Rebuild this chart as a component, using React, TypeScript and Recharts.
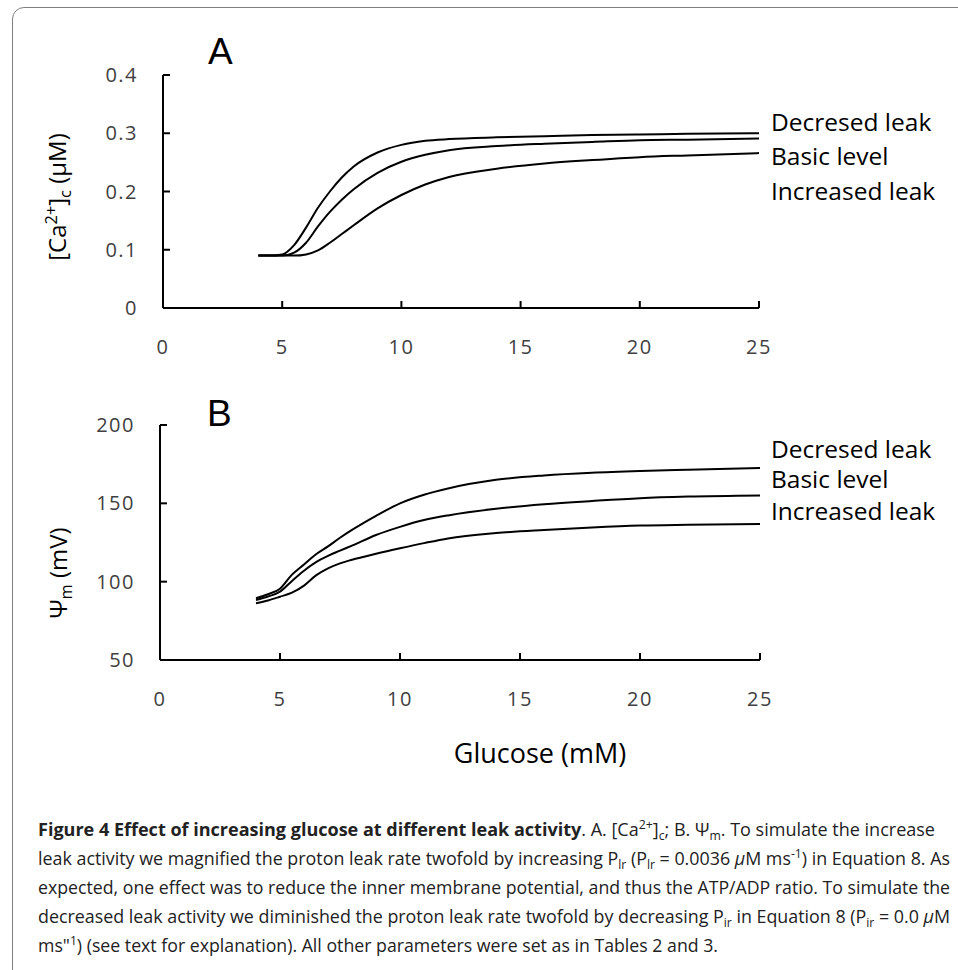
import React, { useLayoutEffect, useRef, useState } from 'react';
import { LineChart, Line, XAxis, YAxis } from 'recharts';

// ---- data ----
const glucose = [4, 4.5, 5, 5.5, 6, 6.5, 7, 7.5, 8, 9, 10, 11, 12, 14, 16, 18, 20, 22, 25];

const caDecreased = [0.09, 0.09, 0.092, 0.108, 0.138, 0.172, 0.2, 0.224, 0.243, 0.267, 0.28, 0.287, 0.29, 0.293, 0.295, 0.297, 0.298, 0.299, 0.3];
const caBasic = [0.09, 0.09, 0.09, 0.095, 0.112, 0.14, 0.165, 0.186, 0.204, 0.232, 0.251, 0.263, 0.271, 0.278, 0.282, 0.285, 0.288, 0.289, 0.291];
const caIncreased = [0.09, 0.09, 0.09, 0.09, 0.092, 0.099, 0.112, 0.127, 0.142, 0.171, 0.194, 0.212, 0.225, 0.239, 0.248, 0.254, 0.259, 0.262, 0.266];

const psiDecreased = [89.4, 92, 95.5, 104.5, 111, 117.5, 122.5, 128, 133, 142, 150, 155.5, 159.5, 165, 167.8, 169.5, 170.6, 171.4, 172.5];
const psiBasic = [88.3, 90.5, 93.6, 100.5, 107, 112.5, 116.5, 119.8, 123, 129.8, 135, 139.3, 142.3, 146.5, 149.4, 151.5, 153.3, 154.3, 155];
const psiIncreased = [86.2, 88, 90.4, 93, 97.5, 104, 108.5, 111.7, 114, 117.8, 121.3, 124.6, 127.6, 131, 133, 134.6, 135.8, 136.3, 136.8];

const xTicks = [0, 5, 10, 15, 20, 25];
const caTicks = [0, 0.1, 0.2, 0.3, 0.4];
const psiTicks = [50, 100, 150, 200];
const seriesNames = ['Decresed leak', 'Basic level', 'Increased leak'];

const dataA = glucose.map((g, i) => ({ g, dec: caDecreased[i], bas: caBasic[i], inc: caIncreased[i] }));
const dataB = glucose.map((g, i) => ({ g, dec: psiDecreased[i], bas: psiBasic[i], inc: psiIncreased[i] }));

const FONT = '"Open Sans", "Noto Sans", sans-serif';
const tickStyle = { fill: '#404040', fontSize: 20, fontFamily: FONT, letterSpacing: 1.5 };
const axisLine = { stroke: '#000', strokeWidth: 2 };

function FitLine({ top, left, width, children }: { top: number; left: number; width: number; children: React.ReactNode }) {
  const ref = useRef<HTMLSpanElement>(null);
  const [s, setS] = useState(1);
  useLayoutEffect(() => {
    if (ref.current) {
      const w = ref.current.getBoundingClientRect().width;
      if (w > 0) setS(width / w);
    }
  }, [width]);
  return (
    <div
      style={{
        position: 'absolute',
        left,
        top,
        whiteSpace: 'nowrap',
        transformOrigin: '0 0',
        transform: `scaleX(${s})`,
        fontFamily: FONT,
        fontSize: 18.5,
        lineHeight: 1,
        color: '#222',
      }}
    >
      <span ref={ref}>{children}</span>
    </div>
  );
}

const subS: React.CSSProperties = { fontSize: '0.68em', verticalAlign: '-0.3em', lineHeight: 0 };
const supS: React.CSSProperties = { fontSize: '0.68em', verticalAlign: '0.55em', lineHeight: 0 };

function Panel({ data, domain, ticks, top, height, margin }: any) {
  return (
    <div style={{ position: 'absolute', left: 0, top }}>
      <LineChart width={958} height={height} data={data} margin={margin}>
        <XAxis
          dataKey="g"
          type="number"
          domain={[0, 25]}
          ticks={xTicks}
          interval={0}
          height={60}
          tickSize={-7}
          tickMargin={39}
          axisLine={axisLine}
          tickLine={axisLine}
          tick={tickStyle}
        />
        <YAxis
          type="number"
          domain={domain}
          ticks={ticks}
          interval={0}
          width={60}
          tickSize={-7}
          tickMargin={32}
          axisLine={axisLine}
          tickLine={axisLine}
          tick={tickStyle}
        />
        <Line dataKey="dec" name={seriesNames[0]} type="monotone" stroke="#000" strokeWidth={2} dot={false} isAnimationActive={false} />
        <Line dataKey="bas" name={seriesNames[1]} type="monotone" stroke="#000" strokeWidth={2} dot={false} isAnimationActive={false} />
        <Line dataKey="inc" name={seriesNames[2]} type="monotone" stroke="#000" strokeWidth={2} dot={false} isAnimationActive={false} />
      </LineChart>
    </div>
  );
}

const seriesLabel = (y: number, text: string) => (
  <div
    key={text + y}
    style={{ position: 'absolute', left: 771, top: y - 12.5, fontFamily: FONT, fontSize: 24.5, lineHeight: 1, color: '#000', whiteSpace: 'nowrap' }}
  >
    {text}
  </div>
);

export default function App() {
  return (
    <div style={{ position: 'absolute', left: 0, top: 0, width: 958, height: 970, overflow: 'hidden', background: '#fff' }}>
      <div style={{ position: 'absolute', left: 12, top: 7, width: 1100, height: 1100, border: '1.5px solid #808080', borderRadius: 12 }} />

      <Panel data={dataA} domain={[0, 0.4]} ticks={caTicks} top={0} height={400} margin={{ top: 75, right: 199, left: 103, bottom: 32 }} />
      <Panel data={dataB} domain={[50, 200]} ticks={psiTicks} top={380} height={400} margin={{ top: 45, right: 198, left: 100, bottom: 60 }} />

      <div style={{ position: 'absolute', left: 208, top: 33, fontFamily: '"Liberation Sans", Arial, sans-serif', fontSize: 37, lineHeight: 1, color: '#000' }}>A</div>
      <div style={{ position: 'absolute', left: 207, top: 395, fontFamily: '"Liberation Sans", Arial, sans-serif', fontSize: 37, lineHeight: 1, color: '#000' }}>B</div>

      <div style={{ position: 'absolute', left: 57, top: 197, transform: 'translate(-50%,-50%) rotate(-90deg)', fontFamily: FONT, fontSize: 24, lineHeight: 1, whiteSpace: 'nowrap', color: '#000' }}>
        [Ca<span style={supS}>2+</span>]<span style={subS}>c</span> (μM)
      </div>
      <div style={{ position: 'absolute', left: 58, top: 573, transform: 'translate(-50%,-50%) rotate(-90deg)', fontFamily: FONT, fontSize: 24, lineHeight: 1, whiteSpace: 'nowrap', color: '#000' }}>
        Ψ<span style={subS}>m</span> (mV)
      </div>

      {seriesLabel(122, seriesNames[0])}
      {seriesLabel(156, seriesNames[1])}
      {seriesLabel(191, seriesNames[2])}
      {seriesLabel(449, seriesNames[0])}
      {seriesLabel(479, seriesNames[1])}
      {seriesLabel(511, seriesNames[2])}

      <div style={{ position: 'absolute', left: 540, top: 752, transform: 'translate(-50%,-50%)', fontFamily: FONT, fontSize: 27, lineHeight: 1, whiteSpace: 'nowrap', color: '#000' }}>
        Glucose (mM)
      </div>

      <FitLine left={38} top={819.5} width={897}>
        <b>Figure 4 Effect of increasing glucose at different leak activity</b>. A. [Ca<span style={supS}>2+</span>]<span style={subS}>c</span>; B. Ψ<span style={subS}>m</span>. To simulate the increase
      </FitLine>
      <FitLine left={38} top={848.7} width={912}>
        leak activity we magnified the proton leak rate twofold by increasing P<span style={subS}>lr</span> (P<span style={subS}>lr</span> = 0.0036 <i>μ</i>M ms<span style={supS}>-1</span>) in Equation 8. As
      </FitLine>
      <FitLine left={38} top={877.9} width={912}>
        expected, one effect was to reduce the inner membrane potential, and thus the ATP/ADP ratio. To simulate the
      </FitLine>
      <FitLine left={38} top={907.1} width={912}>
        decreased leak activity we diminished the proton leak rate twofold by decreasing P<span style={subS}>ir</span> in Equation 8 (P<span style={subS}>ir</span> = 0.0 <i>μ</i>M
      </FitLine>
      <FitLine left={38} top={936.3} width={680}>
        ms"<span style={supS}>1</span>) (see text for explanation). All other parameters were set as in Tables 2 and 3.
      </FitLine>
    </div>
  );
}
